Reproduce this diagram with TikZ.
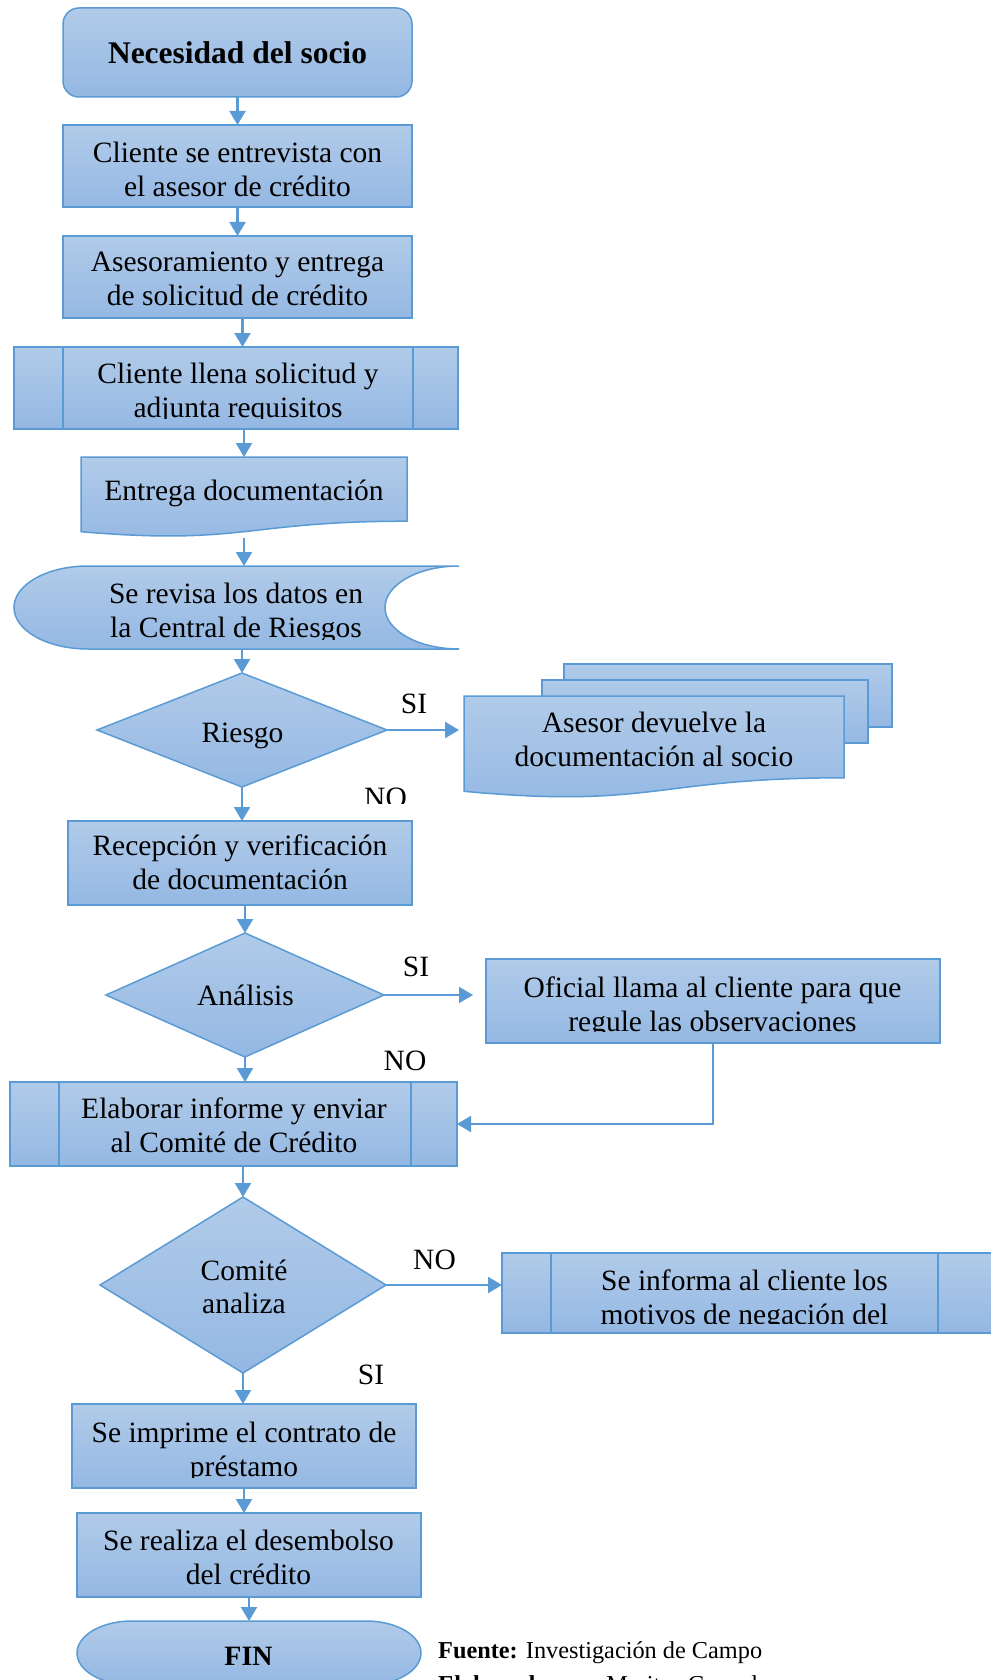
\documentclass[tikz,border=0pt]{standalone}
\usepackage{fontspec}
\setmainfont{Liberation Serif}
\usetikzlibrary{shapes.geometric,arrows.meta,calc}
\definecolor{bline}{HTML}{5B9BD5}
\definecolor{ftop}{HTML}{B1CBE9}
\definecolor{fbot}{HTML}{94B8E3}
\begin{document}
\begin{tikzpicture}[x=1pt,y=-1pt,
  shp/.style={draw=bline, line width=1.5pt, top color=ftop, bottom color=fbot},
  box/.style={shp, rectangle, inner sep=0pt, outer sep=0pt},
  frame/.style={rectangle, inner sep=0pt, outer sep=0pt, draw=none},
  dia/.style={shp, diamond, inner sep=0pt, outer sep=0pt},
  sep/.style={draw=bline, line width=1.5pt},
  txt/.style={inner sep=0pt, align=center, anchor=north, font=\fontsize{29.5}{33.5}\selectfont},
  lbl/.style={inner sep=0pt, anchor=base, font=\fontsize{29.5}{33.5}\selectfont},
  arr/.style={draw=bline, line width=2.2pt, -{Triangle[width=16pt,length=14pt]}},
]
\path[use as bounding box, fill=white] (0,0) rectangle (990,1680);

% start
\node[box, rounded corners=16pt, minimum width=349pt, minimum height=89pt] (start) at (237.5,52.5) {};
\node[lbl, font=\bfseries\fontsize{31.5}{33}\selectfont] (startT) at (237.5,64) {Necesidad del socio};

% b2
\node[box, minimum width=349pt, minimum height=82pt] (b2) at (237.5,166) {};
\node[txt] (b2t) at (237.5,141.9) {Cliente se entrevista con\\el asesor de crédito};

% b3
\node[box, minimum width=349pt, minimum height=82pt] (b3) at (237.5,277) {};
\node[txt] (b3t) at (237.5,251.9) {Asesoramiento y entrega\\de solicitud de crédito};

% b4 predefined process
\node[box, minimum width=444pt, minimum height=82pt] (b4) at (236,388) {};
\draw[sep] ([xshift=49pt]b4.north west) -- ([xshift=49pt]b4.south west);
\draw[sep] ([xshift=-45pt]b4.north east) -- ([xshift=-45pt]b4.south east);
\begin{scope}
\clip (0,347) rectangle (990,418);
\node[txt] (b4t) at (238,362.9) {Cliente llena solicitud y\\adjunta requisitos};
\end{scope}

% b5 document
\node[frame, minimum width=326pt, minimum height=81pt] (b5) at (244,497.5) {};
\path[shp] (81,457) -- (407,457) -- (407,521.2) .. controls (244,521.2) and (244,545.6) .. (81,531.7) -- cycle;
\node[lbl] (b5t) at (244,500) {Entrega documentación};

% b6 stored data
\node[frame, minimum width=445pt, minimum height=83pt] (b6) at (236.5,607.5) {};
\path[shp] (88,566) -- (459,566) arc[start angle=90, end angle=270, x radius=74pt, y radius=41.5pt] -- (88,649) arc[start angle=270, end angle=90, x radius=74pt, y radius=41.5pt] -- cycle;
\begin{scope}
\clip (0,566) rectangle (990,639);
\node[txt] (b6t) at (236,582.9) {Se revisa los datos en\\la Central de Riesgos};
\end{scope}

% d1
\node[dia, minimum width=290pt, minimum height=114pt] (d1) at (242,730) {};
\node[lbl] (d1t) at (242.5,742) {Riesgo};

% multi document
\path[shp] (564,664) rectangle (892,727);
\path[shp] (542,680) rectangle (868,743);
\node[frame, minimum width=380pt, minimum height=95pt] (m1) at (654,743.5) {};
\path[shp] (464,696) -- (844,696) -- (844,777.8) .. controls (654,777.8) and (654,809) .. (464,791.3) -- cycle;
\node[txt] (m1t) at (654,711.9) {Asesor devuelve la\\documentación al socio};

\node[lbl] (si1) at (414,713) {SI};
\begin{scope}
\clip (300,780) rectangle (450,803);
\node[lbl] (no1) at (385.5,807.5) {NO};
\end{scope}

% b7
\node[box, minimum width=344pt, minimum height=84pt] (b7) at (240,863) {};
\node[txt] (b7t) at (240,834.9) {Recepción y verificación\\de documentación};

% d2
\node[dia, minimum width=278pt, minimum height=124pt] (d2) at (245,995) {};
\node[lbl] (d2t) at (245.5,1005) {Análisis};
\node[lbl] (si2) at (416,976) {SI};

% oficial
\node[box, minimum width=454pt, minimum height=84pt] (of) at (713,1001) {};
\begin{scope}
\clip (0,959) rectangle (990,1031);
\node[txt] (oft) at (712.5,976.9) {Oficial llama al cliente para que\\regule las observaciones};
\end{scope}
\node[lbl] (no2) at (405,1070) {NO};

% b8 predefined
\node[box, minimum width=447pt, minimum height=84pt] (b8) at (233.5,1124) {};
\draw[sep] ([xshift=49pt]b8.north west) -- ([xshift=49pt]b8.south west);
\draw[sep] ([xshift=-46pt]b8.north east) -- ([xshift=-46pt]b8.south east);
\node[txt] (b8t) at (234,1097.9) {Elaborar informe y enviar\\al Comité de Crédito};

% d3
\node[dia, minimum width=286pt, minimum height=176pt] (d3) at (243,1285) {};
\node[txt, font=\fontsize{29.5}{33}\selectfont] (d3t) at (244,1259.9) {Comité\\analiza};
\node[lbl] (no3) at (434.5,1269) {NO};

% informa predefined
\node[box, minimum width=490pt, minimum height=80pt] (inf) at (747,1293) {};
\draw[sep] ([xshift=49pt]inf.north west) -- ([xshift=49pt]inf.south west);
\draw[sep] ([xshift=-54pt]inf.north east) -- ([xshift=-54pt]inf.south east);
\begin{scope}
\clip (0,1253) rectangle (990,1323);
\node[txt] (inft) at (744.5,1269.9) {Se informa al cliente los\\motivos de negación del};
\end{scope}
\node[lbl] (si3) at (371,1384) {SI};

% imprime
\node[box, minimum width=344pt, minimum height=84pt] (imp) at (244,1446) {};
\begin{scope}
\clip (0,1404) rectangle (990,1477);
\node[txt] (impt) at (244,1421.9) {Se imprime el contrato de\\préstamo};
\end{scope}

% realiza
\node[box, minimum width=344pt, minimum height=84pt] (rea) at (249,1555) {};
\node[txt] (reat) at (248.5,1529.9) {Se realiza el desembolso\\del crédito};

% fin terminator
\node[frame, minimum width=344pt, minimum height=64pt] (fin) at (249,1653) {};
\path[shp] (132,1621) -- (366,1621) arc[start angle=90, end angle=-90, x radius=55pt, y radius=32pt] -- (132,1685) arc[start angle=270, end angle=90, x radius=55pt, y radius=32pt] -- cycle;
\node[lbl, font=\bfseries\fontsize{28}{33}\selectfont] (fint) at (248.5,1665) {FIN};

% source
\node[anchor=base west, inner sep=0pt, font=\fontsize{24.3}{28}\selectfont] (src) at (438,1658) {\textbf{Fuente:} Investigación de Campo};
\node[anchor=base west, inner sep=0pt, font=\fontsize{24.3}{28}\selectfont] (elab) at (438,1692) {\textbf{Elaborado por:} Maritza Gonzalez};

% connectors
\draw[arr] (start.south) -- (start.south |- b2.north);
\draw[arr] (b2.south) -- (b2.south |- b3.north);
\draw[arr] ([xshift=5pt]b3.south) -- ([xshift=5pt]b3.south |- b4.north);
\draw[arr] (b5.north |- b4.south) -- (b5.north);
\draw[arr] (b5.south) -- (b5.south |- b6.north);
\draw[arr] (d1.north |- b6.south) -- (d1.north);
\draw[arr] (d1.south) -- (d1.south |- b7.north);
\draw[arr, shorten >=5pt] (d1.east) -- (d1.east -| m1.west);
\draw[arr] (d2.north |- b7.south) -- (d2.north);
\draw[arr, shorten >=13pt] (d2.east) -- (d2.east -| of.west);
\draw[arr] (d2.south) -- (d2.south |- b8.north);
\draw[arr] (of.south) |- (b8.east);
\draw[arr] (d3.north |- b8.south) -- (d3.north);
\draw[arr] (d3.east) -- (d3.east -| inf.west);
\draw[arr] (d3.south) -- (d3.south |- imp.north);
\draw[arr] (imp.south) -- (imp.south |- rea.north);
\draw[arr] (rea.south) -- (rea.south |- fin.north);
\end{tikzpicture}
\end{document}
